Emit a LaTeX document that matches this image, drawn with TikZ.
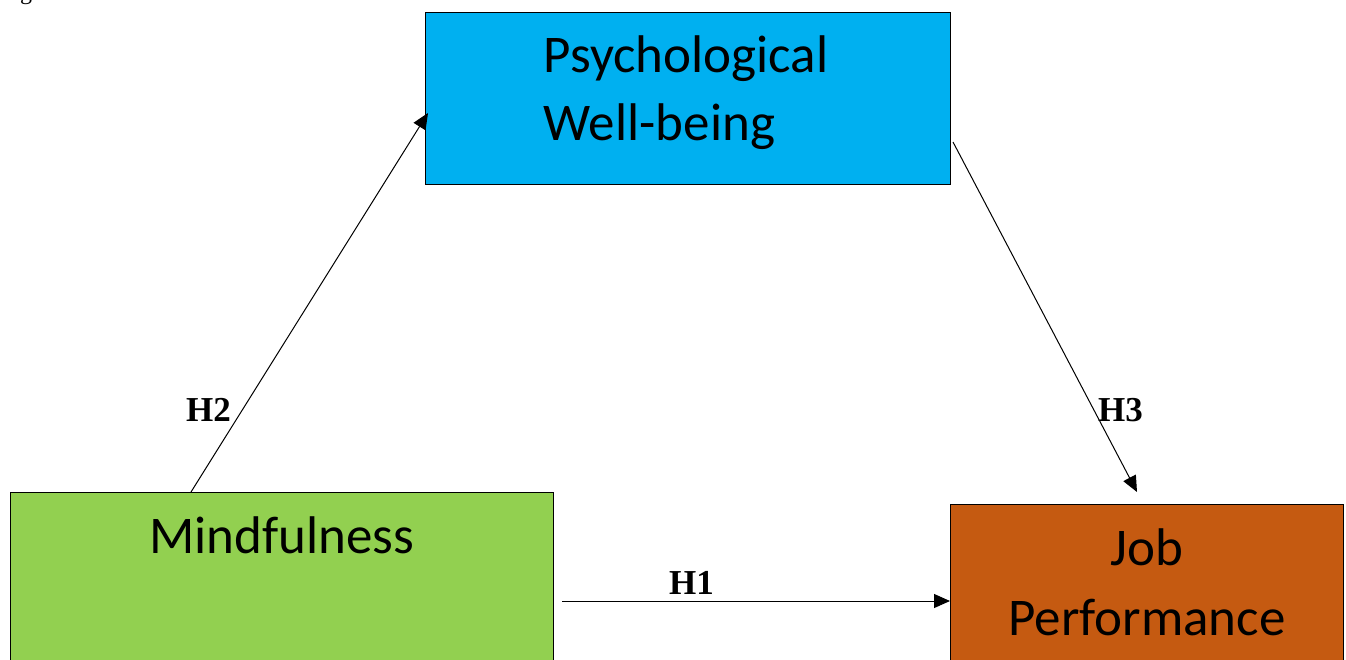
\documentclass[tikz,border=0pt]{standalone}
\usepackage{fontspec}
\setmainfont{Liberation Serif}
\newfontfamily\boxfont{Carlito}
\usetikzlibrary{arrows.meta}

\definecolor{pwbblue}{HTML}{00B0F0}
\definecolor{mindgreen}{HTML}{92D050}
\definecolor{jobbrown}{HTML}{C55A11}

\begin{document}
\begin{tikzpicture}[x=1pt, y=-1pt,
	box/.style={draw=black, line width=1pt, anchor=north west, inner sep=0pt},
	boxtext/.style={font=\boxfont\fontsize{53}{68}\selectfont, inner sep=0pt},
	hyp/.style={font=\bfseries\fontsize{35}{40}\selectfont, inner sep=0pt, anchor=base west},
	arr/.style={line width=1pt, -{Triangle[length=16pt,width=14pt]}}]
		%%%%% START %%%%%
		
		\useasboundingbox (0,0) rectangle (1346,659);
		\clip (0,0) rectangle (1346,659);
		
		% cut caption line above the figure
		\node[font=\fontsize{24}{28}\selectfont, inner sep=0pt, anchor=base west] (cap) at (20,-1) {g};
		
		\node[box, fill=pwbblue, minimum width=525pt, minimum height=172pt] (pwb) at (425,12) {};
		\node[boxtext, align=left] (pwbtxt) at (686,93) {Psychological\\Well-being};
		
		\node[box, fill=mindgreen, minimum width=543pt, minimum height=250pt] (mind) at (10,492) {};
		\node[boxtext, anchor=base] (mindtxt) at (282,553) {Mindfulness};
		
		\node[box, fill=jobbrown, minimum width=393pt, minimum height=250pt] (job) at (950,504) {};
		\node[boxtext, anchor=base] (jobtxt) at (1147,565) {Job};
		\node[boxtext, anchor=base] (perftxt) at (1147,635) {Performance};
		
		\coordinate (h1s) at (562,601);
		\coordinate (h2s) at (191,492);
		\coordinate (h2e) at (428,113);
		\coordinate (h3s) at (953,142);
		\coordinate (h3e) at (1137,492);
		
		\draw[arr] (h1s) -- (h1s -| job.west);
		\draw[arr] (h2s) -- (h2e);
		\draw[arr] (h3s) -- (h3e);
		
		\node[hyp] (h1) at (669,594) {H1};
		\node[hyp] (h2) at (186,421) {H2};
		\node[hyp] (h3) at (1098,421) {H3};
		
		%%%%% END %%%%%
\end{tikzpicture}
\end{document}
